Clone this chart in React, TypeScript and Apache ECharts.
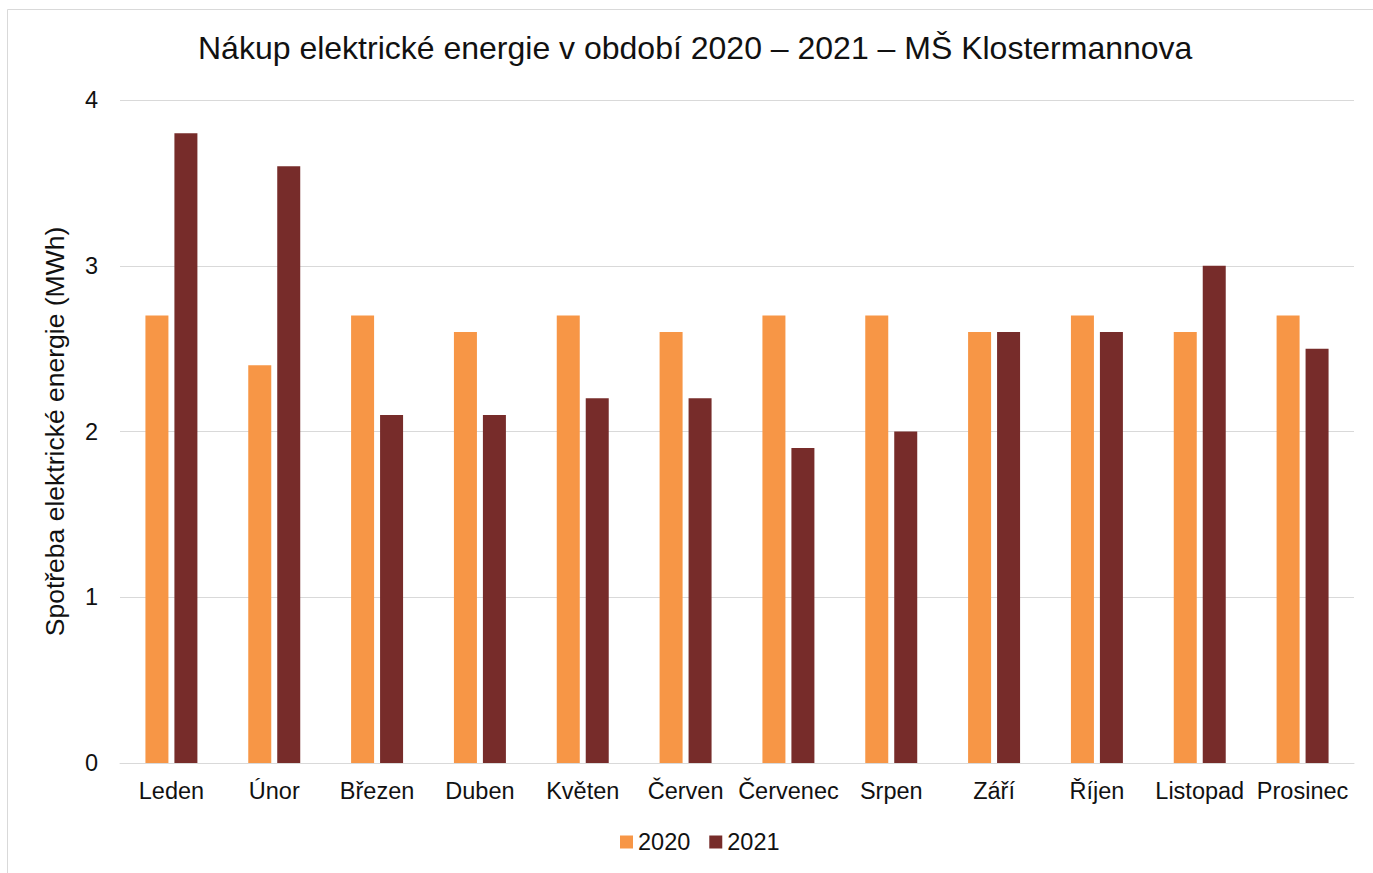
import React, { useEffect, useRef } from "react";
import * as echarts from "echarts";

const months = ["Leden", "Únor", "Březen", "Duben", "Květen", "Červen", "Červenec", "Srpen", "Září", "Říjen", "Listopad", "Prosinec"];
const values2020 = [2.7, 2.4, 2.7, 2.6, 2.7, 2.6, 2.7, 2.7, 2.6, 2.7, 2.6, 2.7];
const values2021 = [3.8, 3.6, 2.1, 2.1, 2.2, 2.2, 1.9, 2.0, 2.6, 2.6, 3.0, 2.5];
const seriesNames = ["2020", "2021"];
const titleText = "Nákup elektrické energie v období 2020 – 2021 – MŠ Klostermannova";
const yAxisName = "Spotřeba elektrické energie (MWh)";

const FONT = "'Liberation Sans', Arial, sans-serif";
const TEXT = "#111";

export default function App() {
  const ref = useRef<HTMLDivElement>(null);
  useEffect(() => {
    if (!ref.current) return;
    const chart = echarts.init(ref.current, null, { renderer: "svg" });
    chart.setOption({
      animation: false,
      backgroundColor: "#fff",
      textStyle: { fontFamily: FONT },
      graphic: [
        {
          type: "rect",
          shape: { x: 7.5, y: 9.5, width: 1400, height: 900 },
          style: { fill: "none", stroke: "#d9d9d9", lineWidth: 1 },
          silent: true,
        },
      ],
      title: {
        text: titleText,
        left: 198,
        top: 32,
        padding: 0,
        textStyle: { fontFamily: FONT, fontSize: 32, fontWeight: "normal", color: TEXT },
      },
      legend: {
        data: seriesNames,
        bottom: 14,
        left: 615,
        itemWidth: 13,
        itemHeight: 13,
        itemGap: 19,
        icon: "rect",
        textStyle: { fontFamily: FONT, fontSize: 23.5, color: TEXT },
      },
      grid: { left: 120, right: 19, top: 100, bottom: 110, containLabel: false },
      xAxis: {
        type: "category",
        data: months,
        axisLine: { lineStyle: { color: "#d9d9d9", width: 1 } },
        axisTick: { show: false },
        axisLabel: { fontFamily: FONT, fontSize: 23.5, color: TEXT, margin: 16, interval: 0 },
      },
      yAxis: {
        type: "value",
        min: 0,
        max: 4,
        interval: 1,
        name: yAxisName,
        nameLocation: "middle",
        nameGap: 52,
        nameTextStyle: { fontFamily: FONT, fontSize: 26.5, color: TEXT },
        axisLine: { show: false },
        axisTick: { show: false },
        splitLine: { lineStyle: { color: "#d9d9d9", width: 1 } },
        axisLabel: { fontFamily: FONT, fontSize: 23.5, color: TEXT, margin: 22 },
      },
      series: [
        {
          name: seriesNames[0],
          type: "bar",
          data: values2020,
          barWidth: 23,
          barGap: "26%",
          itemStyle: { color: "#F79646" },
        },
        {
          name: seriesNames[1],
          type: "bar",
          data: values2021,
          barWidth: 23,
          barGap: "26%",
          itemStyle: { color: "#772C2A" },
        },
      ],
    });
    return () => chart.dispose();
  }, []);
  return (
    <div
      ref={ref}
      style={{ position: "absolute", left: 0, top: 0, width: 1373, height: 873 }}
    />
  );
}
